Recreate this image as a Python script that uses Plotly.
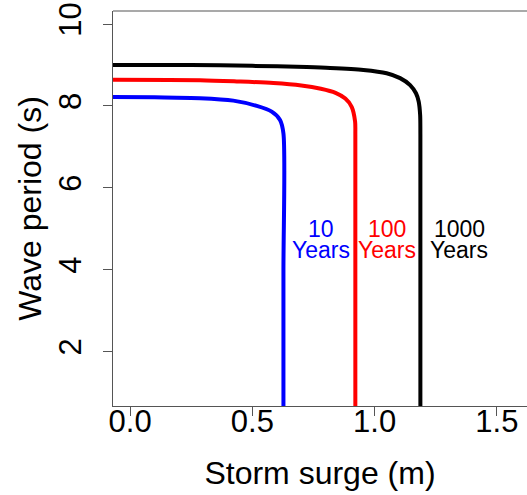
import plotly.graph_objects as go

# Storm surge (m) / wave period (s) curves
surge_10 = [-0.07, 0.10, 0.286, 0.422, 0.518, 0.579, 0.613, 0.627, 0.627, 0.627]
period_10 = [8.22, 8.21, 8.19, 8.13, 8.00, 7.86, 7.66, 7.33, 4.0, 0.6]

surge_100 = [-0.07, 0.286, 0.436, 0.586, 0.700, 0.780, 0.840, 0.880, 0.906, 0.920, 0.921, 0.921]
period_100 = [8.64, 8.63, 8.60, 8.56, 8.50, 8.42, 8.32, 8.18, 7.98, 7.62, 7.29, 0.6]

surge_1000 = [-0.07, 0.25, 0.50, 0.722, 0.818, 0.954, 1.049, 1.104, 1.145, 1.169, 1.180, 1.186, 1.187, 1.187]
period_1000 = [9.00, 9.00, 8.98, 8.95, 8.93, 8.88, 8.80, 8.68, 8.51, 8.31, 8.11, 7.78, 7.29, 0.6]

label_top = ["10", "100", "1000"]
label_bottom = ["Years", "Years", "Years"]
label_x = [0.781, 1.049, 1.345]
label_y = [4.74, 4.74, 4.74]
colors = ["#0000FF", "#FF0000", "#000000"]

x_ticks = [0.0, 0.5, 1.0, 1.5]
x_ticktext = ["0.0", "0.5", "1.0", "1.5"]
y_ticks = [2, 4, 6, 8, 10]

FONT = "Liberation Sans, Arial, sans-serif"

fig = go.Figure()
for xs, ys, c, name in [(surge_10, period_10, colors[0], "10 Years"),
                        (surge_100, period_100, colors[1], "100 Years"),
                        (surge_1000, period_1000, colors[2], "1000 Years")]:
    fig.add_trace(go.Scatter(x=xs, y=ys, mode="lines", name=name,
                             line=dict(color=c, width=4, shape="spline", smoothing=0.8),
                             showlegend=False, hoverinfo="skip"))

for t, b, x, y, c in zip(label_top, label_bottom, label_x, label_y, colors):
    fig.add_annotation(x=x, y=y, text=t, showarrow=False, xref="x", yref="y", yshift=10.5,
                       font=dict(family=FONT, size=23, color=c))
    fig.add_annotation(x=x, y=y, text=b, showarrow=False, xref="x", yref="y", yshift=-10.5,
                       font=dict(family=FONT, size=23, color=c))

fig.add_shape(type="line", xref="paper", yref="paper", x0=0, x1=1, y0=1, y1=1,
              line=dict(color="#555555", width=1.2))

fig.update_layout(
    width=527, height=495,
    margin=dict(l=113, r=0, t=11, b=89),
    paper_bgcolor="white", plot_bgcolor="white",
    font=dict(family=FONT, color="black"),
    xaxis=dict(range=[-0.07, 1.623], tickvals=x_ticks, ticktext=x_ticktext,
               showgrid=False, zeroline=False, showline=True, linecolor="#555555",
               linewidth=1.2, ticks="outside", ticklen=9, tickcolor="#555555",
               tickfont=dict(size=31, color="black"), ticklabelstandoff=-21,
               title=dict(text="Storm surge (m)", font=dict(size=32), standoff=23)),
    yaxis=dict(range=[0.67, 10.32], tickvals=y_ticks,
               showgrid=False, zeroline=False, showline=True, linecolor="#555555",
               linewidth=1.2, ticks="outside", ticklen=9, tickcolor="#555555",
               tickangle=-90, tickfont=dict(size=31, color="black"), ticklabelstandoff=10,
               title=dict(text="Wave period (s)", font=dict(size=32), standoff=1)),
)

fig.write_html("out.html", config={"displayModeBar": False},
               post_script="document.body.style.margin='0px';")
